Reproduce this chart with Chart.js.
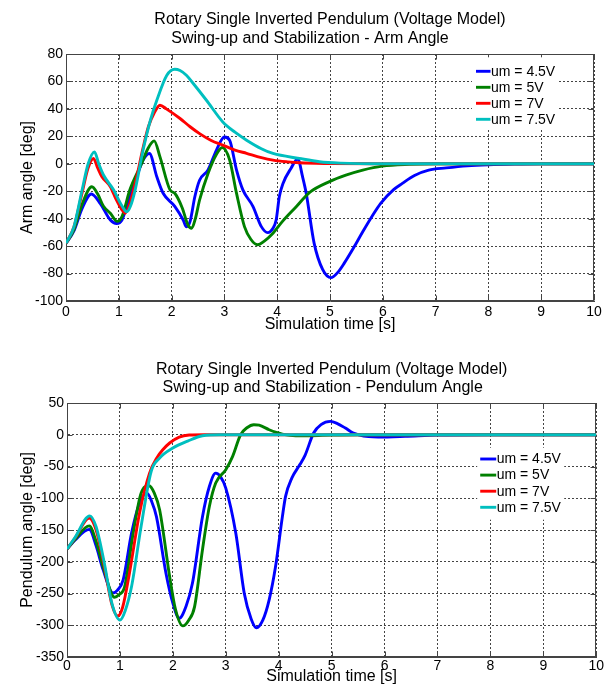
<!DOCTYPE html>
<html>
<head>
<meta charset="utf-8">
<script src="https://cdn.jsdelivr.net/npm/chart.js@4"></script>
<style>
  html, body { margin: 0; padding: 0; background: #fff; }
  #wrap { position: relative; width: 605px; height: 686px; overflow: hidden; }
  canvas { position: absolute; left: 0; }
</style>
</head>
<body>
<div id="wrap">
  <canvas id="armChart" width="605" height="335" style="top:0px"></canvas>
  <canvas id="pendChart" width="605" height="346" style="top:340px"></canvas>
</div>
<script>
// ---------- DATA ----------
const seriesLabels = ['um = 4.5V', 'um = 5V', 'um = 7V', 'um = 7.5V'];
const seriesColors = ['#0000ff', '#008000', '#ff0000', '#00bfbf'];

const xTicks = [0, 1, 2, 3, 4, 5, 6, 7, 8, 9, 10];
const armTicks = [-100, -80, -60, -40, -20, 0, 20, 40, 60, 80];
const pendTicks = [-350, -300, -250, -200, -150, -100, -50, 0, 50];

// Arm angle [deg] vs time [s]: [t, value]
const arm45 = [[0,-58],[0.15,-49],[0.3,-33],[0.48,-22],[0.65,-29],[0.84,-41],[0.96,-43.5],[1.06,-41],[1.15,-31],[1.34,-9.5],[1.46,2.7],[1.58,7.5],[1.72,-9.5],[1.84,-21.5],[2.06,-31],[2.22,-41],[2.28,-46],[2.35,-42],[2.44,-24],[2.53,-12],[2.69,-4.5],[2.85,10],[3.0,19.5],[3.1,17],[3.23,-4.6],[3.35,-19],[3.54,-31],[3.7,-45.8],[3.82,-50.2],[3.92,-47],[3.98,-41],[4.04,-24],[4.11,-14.3],[4.26,-3.4],[4.39,3.5],[4.48,-9.4],[4.55,-21.6],[4.7,-58],[4.86,-77],[5.02,-83],[5.15,-79],[5.27,-72.4],[5.45,-61],[5.62,-49.5],[5.8,-38],[5.96,-28.8],[6.2,-19],[6.37,-14.3],[6.6,-8.5],[6.87,-4.6],[7.2,-3],[7.6,-1.5],[8.0,-0.7],[8.5,-0.2],[9,0],[10,0]];
const arm5 = [[0,-58],[0.15,-48],[0.3,-30],[0.49,-16.7],[0.6,-22],[0.71,-31],[0.84,-36],[0.97,-42],[1.06,-38.5],[1.21,-19],[1.43,0],[1.55,11],[1.67,16.7],[1.78,5],[1.97,-19],[2.06,-21.5],[2.2,-32],[2.31,-44.6],[2.38,-47],[2.45,-40],[2.53,-26.4],[2.69,-7],[2.85,7],[2.96,11.9],[3.1,2.7],[3.23,-21.6],[3.38,-45.8],[3.5,-55],[3.63,-59],[3.75,-56.5],[3.92,-50.6],[4.1,-42],[4.36,-31.3],[4.61,-21],[4.99,-13],[5.3,-8.3],[5.62,-4.6],[5.99,-1.7],[6.5,-0.4],[7,0],[10,0]];
const arm7 = [[0,-58],[0.15,-46],[0.3,-22],[0.42,-3],[0.52,3.9],[0.6,-3],[0.68,-9.4],[0.84,-16.7],[0.95,-26],[1.05,-33],[1.12,-36],[1.2,-30],[1.34,-9.4],[1.45,10],[1.56,27],[1.67,37],[1.78,42.7],[1.9,40],[2.16,33],[2.35,27],[2.53,22],[2.75,17],[2.97,13.6],[3.2,10],[3.42,7.6],[3.7,4.5],[3.92,2.7],[4.2,1.4],[4.42,0.7],[5,0.2],[6,0],[10,0]];
const arm75 = [[0,-58],[0.15,-46],[0.3,-20],[0.42,0],[0.54,8.7],[0.62,0],[0.71,-8.2],[0.9,-19],[1.05,-30],[1.15,-35],[1.22,-31],[1.31,-19],[1.46,10],[1.6,32],[1.72,46.3],[1.91,64.5],[2.06,68.9],[2.16,68],[2.28,64.5],[2.41,58.5],[2.66,46.3],[2.97,30.5],[3.2,23],[3.42,17.2],[3.7,11],[3.92,7.5],[4.42,3.9],[4.8,1.5],[5.2,0.5],[6,0],[10,0]];

// Pendulum angle [deg] vs time [s]: [t, value]
const pend45 = [[0,-180],[0.15,-166],[0.42,-149],[0.55,-175],[0.68,-212],[0.87,-249],[0.95,-245],[1.06,-229],[1.22,-155],[1.37,-108],[1.51,-92],[1.6,-105],[1.69,-129],[1.87,-218],[2.0,-265],[2.12,-289],[2.25,-270],[2.37,-234],[2.56,-129],[2.69,-81.5],[2.81,-60.4],[2.9,-66],[3.0,-84],[3.19,-155],[3.35,-250],[3.48,-290],[3.58,-304],[3.7,-292],[3.82,-260],[3.94,-208],[4.07,-129],[4.13,-97],[4.25,-68],[4.4,-47],[4.5,-32],[4.66,2.7],[4.8,16],[4.98,21],[5.1,18],[5.26,10.5],[5.4,3],[5.51,0],[5.7,-3],[5.88,-3.7],[6.39,-2.6],[7,-0.5],[8,0],[10,0]];
const pend5 = [[0,-180],[0.15,-165],[0.42,-143.5],[0.55,-168],[0.68,-207],[0.9,-256],[0.98,-252],[1.09,-239],[1.25,-155],[1.4,-92],[1.55,-80.4],[1.65,-92],[1.75,-118],[1.94,-223.5],[2.05,-275],[2.19,-301],[2.3,-292],[2.41,-271],[2.56,-181],[2.69,-113],[2.81,-76],[3.0,-55],[3.13,-34],[3.28,0],[3.4,11],[3.53,15.8],[3.63,15],[3.82,7.9],[3.94,4],[4.07,1],[4.32,-1.6],[4.6,-1.5],[5,-0.5],[5.5,0],[10,0]];
const pend7 = [[0,-180],[0.15,-163],[0.42,-131],[0.55,-150],[0.7,-205],[0.85,-268],[0.96,-285.5],[1.05,-272],[1.18,-218],[1.37,-123.5],[1.56,-60.4],[1.7,-36],[1.81,-23.7],[1.94,-13],[2.12,-3.7],[2.31,-0.5],[2.6,0],[10,0]];
const pend75 = [[0,-180],[0.15,-162],[0.43,-127.8],[0.55,-145],[0.7,-200],[0.85,-266],[1.0,-291.8],[1.1,-277],[1.22,-239],[1.4,-144.6],[1.59,-57.9],[1.75,-36.8],[2.0,-21],[2.28,-10],[2.56,-1.5],[2.9,0],[10,0]];

const armTitle = ['Rotary Single Inverted Pendulum (Voltage Model)', 'Swing-up and Stabilization - Arm Angle         '];
const pendTitle = ['Rotary Single Inverted Pendulum (Voltage Model)', 'Swing-up and Stabilization - Pendulum Angle    '];
const xLabel = 'Simulation time [s]';
const armLabel = 'Arm angle [deg]';
const pendLabel = 'Pendulum angle [deg]';

// ---------- CHART SETUP ----------
const FONT = "'Liberation Sans', Arial, Helvetica, sans-serif";
Chart.defaults.font.family = FONT;
Chart.defaults.color = '#000';

function makeDatasets(list) {
  return list.map((pts, i) => ({
    label: seriesLabels[i],
    data: pts.map(p => ({ x: p[0], y: p[1] })),
    borderColor: seriesColors[i],
    backgroundColor: seriesColors[i],
    borderWidth: 2.9,
    pointRadius: 0,
    fill: false,
    cubicInterpolationMode: 'monotone',
    order: list.length - i
  }));
}

const boxPlugin = {
  id: 'matlabBox',
  beforeDatasetsDraw(chart) {
    const { ctx, chartArea: a, scales: { x, y } } = chart;
    ctx.save();
    ctx.strokeStyle = '#444';
    ctx.lineWidth = 1;
    const L = Math.round(a.left) + 0.5, R = Math.round(a.right) - 0.5;
    const T = Math.round(a.top) + 0.5, B = Math.round(a.bottom) - 0.5;
    ctx.beginPath();
    x.ticks.forEach(t => {
      const px = Math.round(x.getPixelForValue(t.value)) + 0.5;
      ctx.moveTo(px, B); ctx.lineTo(px, B - 5);
      ctx.moveTo(px, T); ctx.lineTo(px, T + 5);
    });
    y.ticks.forEach(t => {
      const py = Math.round(y.getPixelForValue(t.value)) + 0.5;
      ctx.moveTo(L, py); ctx.lineTo(L + 5, py);
      ctx.moveTo(R, py); ctx.lineTo(R - 5, py);
    });
    ctx.stroke();
    ctx.strokeRect(L, T, R - L, B - T);
    ctx.restore();
  }
};

const legendPlugin = {
  id: 'insideLegend',
  afterDatasetsDraw(chart, args, o) {
    const { ctx, chartArea: a } = chart;
    const x0 = a.right - o.right - o.width;
    const y0 = a.top + o.top;
    ctx.save();
    ctx.fillStyle = '#fff';
    ctx.fillRect(x0, y0, o.width, o.height);
    ctx.font = '14px ' + FONT;
    ctx.textBaseline = 'middle';
    ctx.textAlign = 'left';
    chart.data.datasets.forEach((ds, i) => {
      const yy = y0 + o.firstRow + i * o.rowGap;
      ctx.strokeStyle = ds.borderColor;
      ctx.lineWidth = 2.9;
      ctx.beginPath();
      ctx.moveTo(x0 + o.lineStart, yy);
      ctx.lineTo(x0 + o.lineStart + o.lineLen, yy);
      ctx.stroke();
      ctx.fillStyle = '#000';
      ctx.fillText(ds.label, x0 + o.textX, yy + 0.5);
    });
    ctx.restore();
  }
};

function makeChart(id, cfg) {
  return new Chart(document.getElementById(id), {
    type: 'line',
    data: { datasets: makeDatasets(cfg.series) },
    plugins: [boxPlugin, legendPlugin],
    options: {
      responsive: false,
      animation: false,
      layout: { padding: { left: 0, right: cfg.padRight, top: 0, bottom: 0 } },
      plugins: {
        legend: { display: false },
        tooltip: { enabled: false },
        title: {
          display: true,
          text: cfg.title,
          fullSize: false,
          color: '#000',
          font: { size: 16, weight: 'normal', lineHeight: 1.15 },
          padding: { top: cfg.titleTop, bottom: cfg.titleBottom }
        },
        insideLegend: cfg.legend
      },
      scales: {
        x: {
          type: 'linear',
          min: 0, max: 10,
          afterBuildTicks: s => { s.ticks = xTicks.map(v => ({ value: v })); },
          afterFit: s => { s.height = cfg.xHeight; },
          grid: { color: '#444', drawTicks: false, lineWidth: 1 },
          border: { display: true, color: '#444', dash: [2, 2] },
          ticks: { padding: cfg.xTickPad, font: { size: 14 }, color: '#000', maxRotation: 0 },
          title: { display: true, text: xLabel, color: '#000', font: { size: 16, lineHeight: 1.15 }, padding: { top: 0, bottom: cfg.xTitlePad } }
        },
        y: {
          type: 'linear',
          min: cfg.yTicks[0], max: cfg.yTicks[cfg.yTicks.length - 1],
          afterBuildTicks: s => { s.ticks = cfg.yTicks.map(v => ({ value: v })); },
          afterFit: s => { s.width = cfg.yWidth; },
          grid: { color: '#444', drawTicks: false, lineWidth: 1 },
          border: { display: true, color: '#444', dash: [2, 2] },
          ticks: { padding: 3, font: { size: 14 }, color: '#000' },
          title: { display: true, text: cfg.yLabel, color: '#000', font: { size: 16, lineHeight: 1.15 }, padding: { top: 18, bottom: 0 } }
        }
      }
    }
  });
}

makeChart('armChart', {
  series: [arm45, arm5, arm7, arm75],
  title: armTitle, yLabel: armLabel, yTicks: armTicks,
  padRight: 11, titleTop: 10.6, titleBottom: 6.6,
  xHeight: 34, xTickPad: 3, xTitlePad: 1, yWidth: 66,
  legend: { right: 37, top: 3.3, width: 85, height: 71, firstRow: 14, rowGap: 16, lineStart: 4, lineLen: 14.5, textX: 19 }
});

makeChart('pendChart', {
  series: [pend45, pend5, pend7, pend75],
  title: pendTitle, yLabel: pendLabel, yTicks: pendTicks,
  padRight: 6, titleTop: 20, titleBottom: 6.2,
  xHeight: 29, xTickPad: 1, xTitlePad: 0, yWidth: 67,
  legend: { right: 32, top: 44.7, width: 87, height: 72, firstRow: 11.3, rowGap: 16.1, lineStart: 3, lineLen: 16, textX: 19.5 }
});
</script>
</body>
</html>
